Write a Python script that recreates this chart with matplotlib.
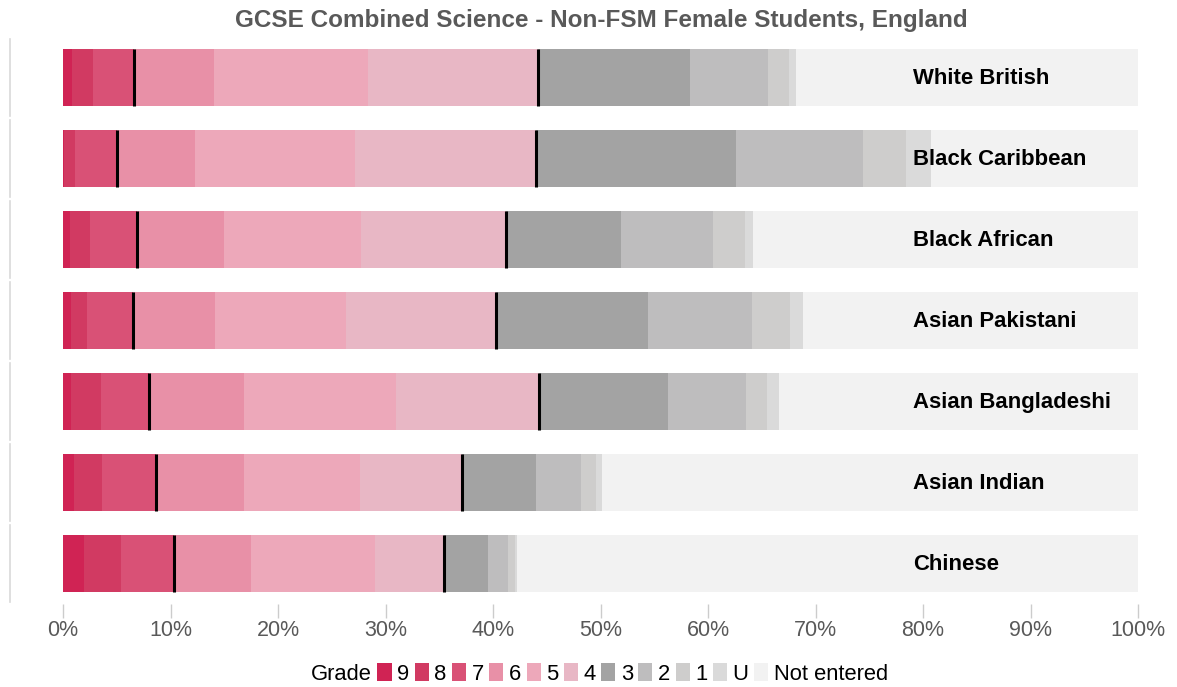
import matplotlib
matplotlib.use("Agg")
import matplotlib.pyplot as plt
from matplotlib.patches import Patch
import numpy as np

plt.rcParams['font.family'] = ['Liberation Sans', 'DejaVu Sans']

groups = ["White British", "Black Caribbean", "Black African", "Asian Pakistani",
          "Asian Bangladeshi", "Asian Indian", "Chinese"]
grades = ["9", "8", "7", "6", "5", "4", "3", "2", "1", "U", "Not entered"]

g9 = [0.8, 0.1, 0.6, 0.7, 0.7, 1.0, 1.9]
g8 = [2.0, 1.0, 1.9, 1.5, 2.8, 2.6, 3.5]
g7 = [3.8, 3.9, 4.4, 4.3, 4.5, 5.0, 4.9]
g6 = [7.4, 7.3, 8.1, 7.6, 8.8, 8.2, 7.2]
g5 = [14.4, 14.9, 12.7, 12.2, 14.2, 10.8, 11.5]
g4 = [15.8, 16.8, 13.5, 14.0, 13.3, 9.5, 6.4]
g3 = [14.1, 18.6, 10.7, 14.1, 12.0, 6.9, 4.1]
g2 = [7.3, 11.8, 8.6, 9.7, 7.2, 4.2, 1.9]
g1 = [1.9, 4.0, 2.9, 3.5, 2.0, 1.4, 0.6]
gU = [0.7, 2.3, 0.8, 1.2, 1.1, 0.5, 0.2]
gNE = [31.8, 19.3, 35.8, 31.2, 33.4, 49.9, 57.8]

series = [g9, g8, g7, g6, g5, g4, g3, g2, g1, gU, gNE]
colors = ["#D02354", "#D13A62", "#D95176", "#E890A7", "#EDA8BA", "#E8B7C5",
          "#A3A3A3", "#BEBDBE", "#CECDCC", "#DADADA", "#F2F2F2"]

W, H = 1177, 687
fig = plt.figure(figsize=(W / 100, H / 100), dpi=100)
ax = fig.add_axes([63.1 / W, 1 - 604 / H, (1138 - 63.1) / W, (604 - 37) / H])

y = np.arange(len(groups))
bar_h = 0.70
left = np.zeros(len(groups))
cum = []
for vals, col in zip(series, colors):
    v = np.array(vals)
    ax.barh(y, v, left=left, height=bar_h, color=col, edgecolor='none')
    left = left + v
    cum.append(left.copy())

# black markers at grade 7+ and 4+ boundaries
for idx in (2, 5):
    ax.vlines(cum[idx], y - bar_h / 2, y + bar_h / 2, color='black', linewidth=2.2, zorder=3)

for yi, name in zip(y, groups):
    ax.text(79.05, yi + 0.01, name, ha='left', va='center', fontsize=15.9,
            fontweight='bold', color='black', zorder=4)

ax.set_xlim(0, 100)
ax.set_ylim(len(groups) - 0.5, -0.5)
ax.set_yticks([])
ax.set_xticks(np.arange(0, 101, 10))
ax.set_xticklabels([f"{t}%" for t in range(0, 101, 10)])
ax.tick_params(axis='x', length=10, width=1, color='#CCCCCC', labelcolor='#595959',
               labelsize=15.5, pad=1.5, direction='out')
for s in ax.spines.values():
    s.set_visible(False)

# left panel strips
trans = matplotlib.transforms.blended_transform_factory(ax.transAxes, ax.transData)
for yi in y:
    ax.plot([-0.0498, -0.0498], [yi - 0.475, yi + 0.475], transform=trans,
            color='#D9D9D9', linewidth=1.2, clip_on=False)

fig.text(601 / W, 1 - 20 / H, "GCSE Combined Science - Non-FSM Female Students, England",
         ha='center', va='center', fontsize=17.5, fontweight='bold', color='#595959')

handles = [Patch(facecolor=c, edgecolor='none') for c in colors]
leg = fig.legend(handles, grades, loc='center left', bbox_to_anchor=(377.5 / W, 1 - 674 / H),
                 ncol=len(grades), frameon=False, fontsize=15.8,
                 handlelength=0.64, handleheight=0.87, handletextpad=0.26,
                 columnspacing=0.24, borderaxespad=0, borderpad=0)
fig.text(372 / W, 1 - 674 / H, "Grade", ha='right', va='center', fontsize=15.8, color='black')

fig.savefig("out.png", dpi=100)
